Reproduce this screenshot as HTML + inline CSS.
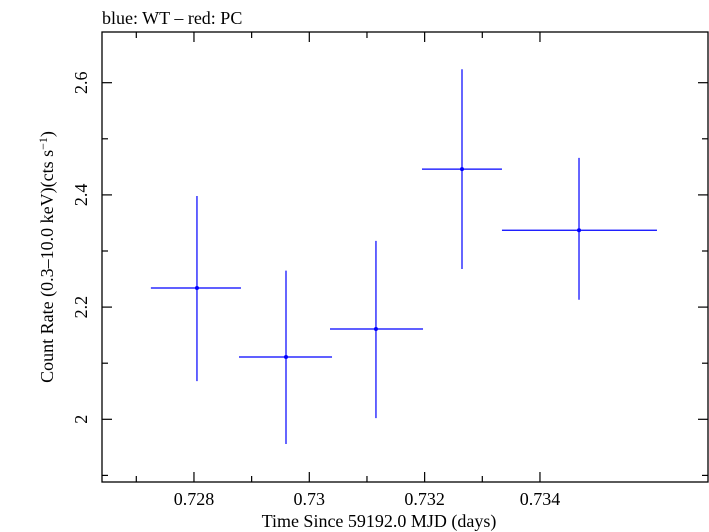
<!DOCTYPE html>
<html><head><meta charset="utf-8"><style>
html,body{margin:0;padding:0;background:#fff;}
svg{display:block;font-family:"Liberation Serif",serif;}
</style></head><body>
<svg id="chart" width="709" height="532" xmlns="http://www.w3.org/2000/svg">
<text x="102" y="24" font-size="18">blue: WT – red: PC</text>
<rect x="102" y="32" width="606" height="450" fill="none" stroke="#000" stroke-width="1.3"/>
<g id="axes"></g>
<g id="series"></g>
<text x="379" y="527" font-size="18" text-anchor="middle">Time Since 59192.0 MJD (days)</text>
<text transform="translate(53,257) rotate(-90)" font-size="18" text-anchor="middle">Count Rate (0.3–10.0 keV)(cts s<tspan dy="-6" font-size="12">−1</tspan><tspan dy="6">)</tspan></text>
</svg>
<script>
const xCenters=[0.728052,0.729596,0.731156,0.732648,0.734677];
const xLo=[0.727253,0.728781,0.730359,0.731954,0.733341];
const xHi=[0.728815,0.730394,0.731972,0.733341,0.736029];
const yVals=[2.234,2.111,2.161,2.446,2.337];
const yLo=[2.068,1.956,2.002,2.268,2.213];
const yHi=[2.398,2.265,2.318,2.624,2.466];
const xTicks=[0.727,0.728,0.729,0.730,0.731,0.732,0.733,0.734];
const xLabels=["0.728","0.73","0.732","0.734"];
const yTicks=[1.9,2.0,2.1,2.2,2.3,2.4,2.5,2.6];
const yLabels=["2","2.2","2.4","2.6"];
const L=102,R=708,T=32,B=482;
const sx=v=>309.3+(v-0.730)*57667;
const sy=v=>419.3-(v-2.0)*561;
const NS="http://www.w3.org/2000/svg";
function mk(tag,attrs,parent){const e=document.createElementNS(NS,tag);for(const k in attrs)e.setAttribute(k,attrs[k]);parent.appendChild(e);return e;}
const ax=document.getElementById('axes'),se=document.getElementById('series');
xTicks.forEach((t,i)=>{
  const x=sx(t);const major=xLabels.includes(String(+t.toFixed(3)));const len=major?10:6;
  let l=mk('line',{x1:x,x2:x,y1:B,y2:B-len,stroke:'#000','stroke-width':1.2},ax);
  
  
  l=mk('line',{x1:x,x2:x,y1:T,y2:T+len,stroke:'#000','stroke-width':1.2},ax);
  
  
});
xLabels.forEach(s=>{
  const t=mk('text',{x:sx(parseFloat(s)),y:505,'font-size':18,'text-anchor':'middle'},ax);t.textContent=s;
  
  
});
yTicks.forEach(t=>{
  const y=sy(t);const len=yLabels.includes(String(+t.toFixed(1)))?10:6;
  let l=mk('line',{x1:L,x2:L+len,y1:y,y2:y,stroke:'#000','stroke-width':1.2},ax);
  
  
  l=mk('line',{x1:R,x2:R-len,y1:y,y2:y,stroke:'#000','stroke-width':1.2},ax);
  
  
});
yLabels.forEach(s=>{
  const y=sy(parseFloat(s));
  const t=mk('text',{transform:`translate(87,${y}) rotate(-90)`,'font-size':18,'text-anchor':'middle'},ax);t.textContent=s;
  
  
});
xCenters.forEach((c,i)=>{
  const g=mk('g',{},se);
  
  
  mk('line',{x1:sx(xLo[i]),x2:sx(xHi[i]),y1:sy(yVals[i]),y2:sy(yVals[i]),stroke:'#0000ff','stroke-width':1.2},g);
  mk('line',{x1:sx(c),x2:sx(c),y1:sy(yLo[i]),y2:sy(yHi[i]),stroke:'#0000ff','stroke-width':1.2},g);
  mk('circle',{cx:sx(c),cy:sy(yVals[i]),r:2,fill:'#0000ff'},g);
});
</script>
</body></html>
